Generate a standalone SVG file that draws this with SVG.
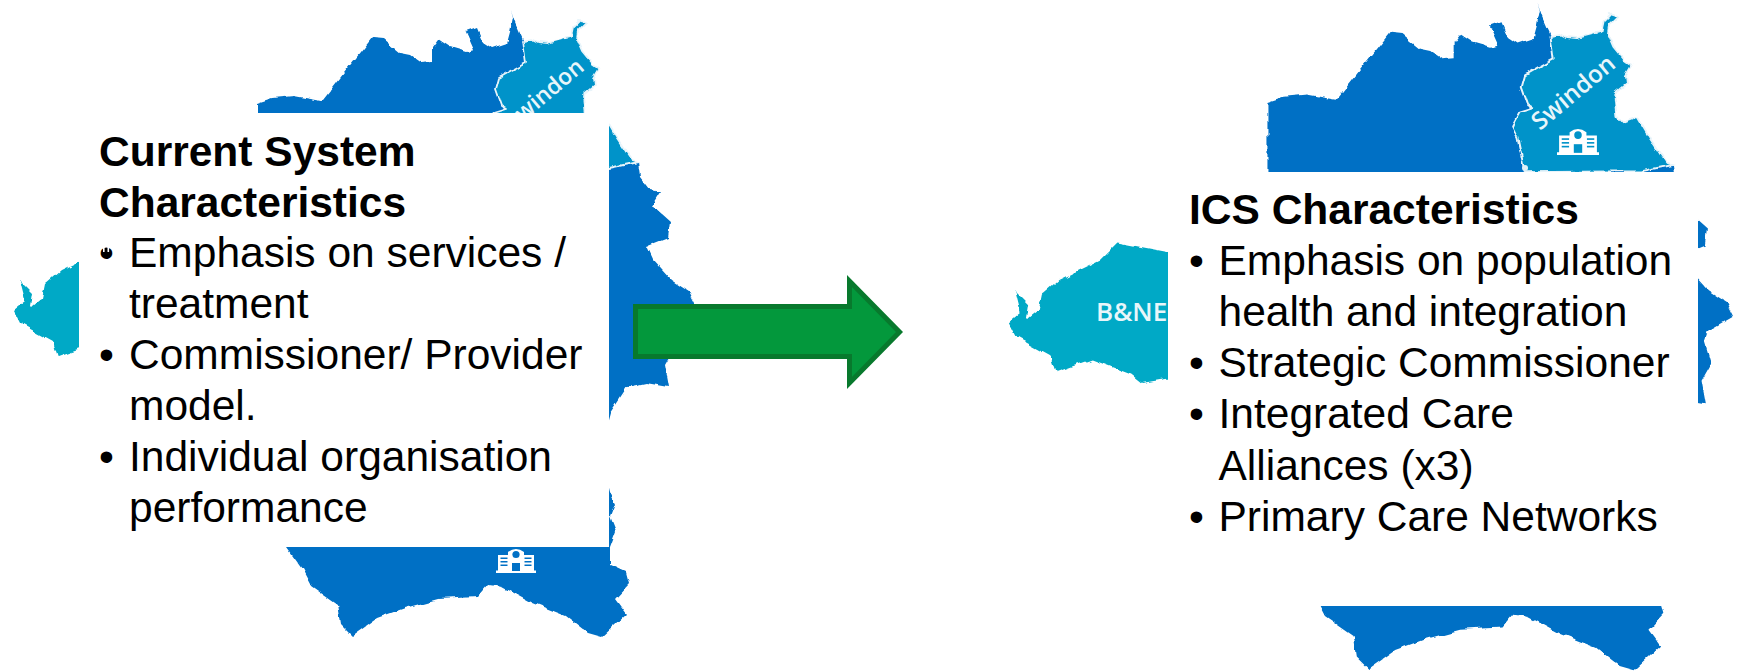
<svg xmlns="http://www.w3.org/2000/svg" width="1741" height="671" viewBox="0 0 1741 671">
<style>
.bg{fill:#fff}
.blue{fill:#0070c5}
.sw{fill:#0093c9;stroke:#e8f4fa;stroke-width:1.8;stroke-linejoin:round}
.teal{fill:#05a9c6}
.box{fill:#fff}
.t{font-family:"Liberation Sans",Arial,sans-serif;font-size:42.5px;fill:#000}
.b{font-weight:700}
.ml{font-family:"Open Sans","Liberation Sans",sans-serif;fill:#e8f6fa}
</style>
<defs>
<filter id="soft" x="-3%" y="-3%" width="106%" height="106%">
<feTurbulence type="fractalNoise" baseFrequency="0.09" numOctaves="2" seed="4" result="n"/>
<feDisplacementMap in="SourceGraphic" in2="n" scale="6" xChannelSelector="R" yChannelSelector="G"/>
<feGaussianBlur stdDeviation="0.7"/>
</filter>
<g id="map">
<path class="blue" d="M257,169 L257,103 272,98 294,96 322,101 344,73 372,38 383,39 400,53 410,55 420,62 432,61 432,47 438,39 450,47 467,52 474,50 466,32 477,28 483,42 492,48 507,43 510,32 513,17 511,10 515,22 523,40 540,80 565,120 600,150 638,162 640,177 650,190 660,192 652,205 671,222 669,237 646,246 652,259 671,280 688,291 695,305 671,319 668,328 674,349 665,365 669,387 646,383 627,387 610,413 600,450 610,492 615,503 610,516 616,531 610,547 610,565 627,573 630,584 616,599 627,614 602,637 588,633 566,616 533,603 502,586 488,584 477,597 438,599 405,608 377,618 352,636 341,625 338,605 311,586 302,569 286,547 200,300 Z"/>
<path class="sw" d="M523,41 L532,39 538,42 548,43 570,37 572,28 580,20 586,22 578,30 577,38 583,52 592,63 599,68 593,78 594,86 583,95 585,115 591,122 604,117 617,139 631,160 638,162 609,168 499,169 496,155 492,136 487,126 494,113 507,109 502,106 496,89 499,78 513,70 526,63 Z"/>
<path class="teal" d="M200,244 L163,244 116,235 100,251 61,270 45,284 42,299 32,307 31,306 33,293 20,280 25,300 14,309 22,325 53,342 58,357 92,345 129,359 139,367 163,363 200,363 Z"/>
</g>
<g id="hospital">
<path fill="#fff" d="M0,25 V22.5 H2 V7 H12 V4 Q20,-2 28,4 V7 H38 V22.5 H40 V25 Z"/>
<g fill="currentColor">
<circle cx="20" cy="6.5" r="3.6"/>
<rect x="16" y="15" width="8" height="8"/>
<rect x="4.5" y="9.5" width="7" height="1.5"/><rect x="4.5" y="13" width="7" height="1.5"/><rect x="4.5" y="16.5" width="7" height="1.5"/>
<rect x="28.5" y="9.5" width="7" height="1.5"/><rect x="28.5" y="13" width="7" height="1.5"/><rect x="28.5" y="16.5" width="7" height="1.5"/>
</g>
</g>
</defs>

<rect class="bg" width="1741" height="671"/>

<g id="map-left">
<use href="#map" filter="url(#soft)"/>
<text class="ml" font-size="22.8" font-weight="600" transform="translate(522.8,122) rotate(-40)">windon</text>
<use href="#hospital" x="496" y="548" color="#0070c5"/>
</g>

<g id="map-right">
<g transform="translate(994,-7.6) scale(1.064)"><use href="#map" filter="url(#soft)"/></g>
<text class="ml" font-size="24.3" font-weight="600" transform="translate(1540,131) rotate(-40)">Swindon</text>
<text class="ml" font-size="26" font-weight="600" x="1096" y="321">B&amp;NE</text>
<use href="#hospital" transform="translate(1557,128) scale(1.05,1.08)" color="#0093c9"/>
<circle cx="1525" cy="168" r="3" fill="#dff1f8"/>
</g>

<g id="node-current">
<rect class="box" x="79" y="113" width="530" height="434"/>
<text class="t b" x="99" y="166">Current System</text>
<text class="t b" x="99" y="217">Characteristics</text>
<text class="t" x="99" y="267">•</text>
<rect x="103" y="246" width="1.6" height="6" fill="#fff"/><rect x="107.5" y="246" width="1.6" height="6" fill="#fff"/>
<text class="t" x="129" y="267">Emphasis on services /</text>
<text class="t" x="129" y="318">treatment</text>
<text class="t" x="99" y="369">•</text>
<text class="t" x="129" y="369">Commissioner/ Provider</text>
<text class="t" x="129" y="420">model.</text>
<text class="t" x="99" y="471">•</text>
<text class="t" x="129" y="471">Individual organisation</text>
<text class="t" x="129" y="522">performance</text>
</g>

<g id="node-ics">
<rect class="box" x="1168" y="172" width="530" height="434"/>
<text class="t b" x="1189" y="224">ICS Characteristics</text>
<text class="t" x="1189" y="275">•</text>
<text class="t" x="1218.5" y="275">Emphasis on population</text>
<text class="t" x="1218.5" y="326">health and integration</text>
<text class="t" x="1189" y="377">•</text>
<text class="t" x="1218.5" y="377">Strategic Commissioner</text>
<text class="t" x="1189" y="428">•</text>
<text class="t" x="1218.5" y="428">Integrated Care</text>
<text class="t" x="1218.5" y="480">Alliances (x3)</text>
<text class="t" x="1189" y="531">•</text>
<text class="t" x="1218.5" y="531">Primary Care Networks</text>
</g>

<g id="connectors">
<path d="M635.5,306.5 H849.5 V281 L899.5,332 L849.5,383 V356.5 H635.5 Z" fill="#03983c" stroke="#08792d" stroke-width="5"/>
</g>
</svg>
